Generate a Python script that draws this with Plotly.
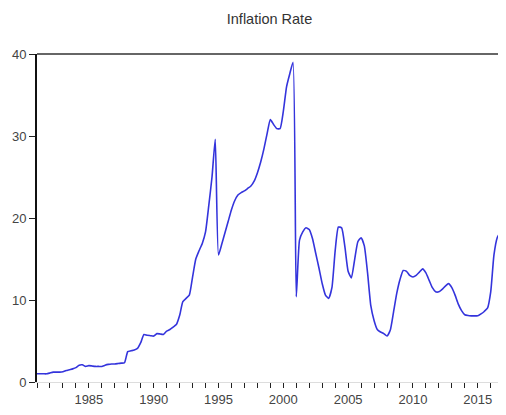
import plotly.graph_objects as go

years = list(range(1981, 2017))
quarters = [0.0, 0.25, 0.5, 0.75]

# Quarterly inflation rate (%), 1981Q1 - 2016Q4
inflation = [
    1.0, 1.0, 1.0, 1.0,      # 1981
    1.1, 1.2, 1.2, 1.2,      # 1982
    1.25, 1.4, 1.5, 1.6,     # 1983
    1.75, 2.05, 2.1, 1.9,    # 1984
    2.0, 1.95, 1.9, 1.9,     # 1985
    1.9, 2.05, 2.15, 2.2,    # 1986
    2.2, 2.25, 2.3, 2.35,    # 1987
    3.7, 3.8, 3.9, 4.1,      # 1988
    4.8, 5.8, 5.7, 5.65,     # 1989
    5.6, 5.9, 5.85, 5.8,     # 1990
    6.2, 6.4, 6.7, 7.0,      # 1991
    8.1, 9.8, 10.2, 10.6,    # 1992
    12.8, 15.0, 16.0, 16.9,  # 1993
    18.3, 21.5, 25.0, 29.6,  # 1994
    15.5, 16.8, 18.2, 19.6,  # 1995
    21.0, 22.1, 22.8, 23.1,  # 1996
    23.3, 23.6, 23.9, 24.5,  # 1997
    25.5, 26.8, 28.4, 30.3,  # 1998
    32.0, 31.4, 30.9, 30.9,  # 1999
    33.0, 36.0, 37.6, 39.0,  # 2000
    10.4, 17.3, 18.3, 18.8,  # 2001
    18.6, 17.5, 15.7, 13.9,  # 2002
    12.0, 10.6, 10.2, 11.5,  # 2003
    16.0, 18.9, 18.8, 16.5,  # 2004
    13.5, 12.7, 14.9, 17.1,  # 2005
    17.6, 16.6, 13.3, 9.3,   # 2006
    7.5, 6.4, 6.1, 5.9,      # 2007
    5.6, 6.3, 8.5, 10.8,     # 2008
    12.5, 13.6, 13.5, 13.0,  # 2009
    12.8, 13.0, 13.4, 13.8,  # 2010
    13.3, 12.4, 11.5, 11.0,  # 2011
    11.0, 11.3, 11.7, 12.0,  # 2012
    11.5, 10.6, 9.5, 8.7,    # 2013
    8.2, 8.1, 8.07, 8.07,    # 2014
    8.07, 8.3, 8.6, 9.0,     # 2015
    11.0, 15.5, 17.6, 18.3,  # 2016
]

period = [y + q for y in years for q in quarters]

x_ticks = [1985, 1990, 1995, 2000, 2005, 2010, 2015]
y_ticks = [0, 10, 20, 30, 40]

fig = go.Figure()
fig.add_trace(go.Scatter(
    x=period, y=inflation, mode="lines",
    line=dict(color="#3434dc", width=1.6, shape="spline", smoothing=0.5),
    showlegend=False, hoverinfo="skip",
))

# page body has an 8px margin, so the figure is sized to fit the 506x415 window
W, H = 498, 407
font = "Liberation Sans, Arial, sans-serif"
fig.update_layout(
    width=W, height=H,
    margin=dict(l=29, r=4, t=46, b=33),
    paper_bgcolor="white", plot_bgcolor="white",
    title=dict(text="Inflation Rate", x=0.5, xref="paper", xanchor="center",
               y=1 - 11 / H, yanchor="middle",
               font=dict(family=font, size=14.5, color="#333333")),
    font=dict(family=font, size=13, color="#444444"),
    xaxis=dict(
        range=[1981.0, 2016.87], tickmode="array", tickvals=x_ticks,
        ticktext=[str(v) for v in x_ticks],
        ticks="outside", ticklen=5, tickcolor="#222222", tickwidth=1,
        showline=True, linecolor="#dddddd", linewidth=1,
        showgrid=False, zeroline=False,
        minor=dict(tickmode="linear", tick0=1981, dtick=1, ticks="outside",
                   ticklen=5, tickcolor="#222222", showgrid=False),
        tickfont=dict(size=13, color="#444444"),
    ),
    yaxis=dict(
        range=[0, 40], tickmode="array", tickvals=y_ticks,
        ticks="outside", ticklen=6, tickcolor="#222222", tickwidth=1,
        showline=True, linecolor="#111111", linewidth=2,
        showgrid=False, zeroline=False,
        tickfont=dict(size=13, color="#444444"),
    ),
    shapes=[
        dict(type="line", xref="paper", yref="paper", x0=0, x1=1, y0=1, y1=1,
             line=dict(color="#333333", width=1.6)),
        dict(type="line", xref="paper", yref="paper", x0=1, x1=1, y0=0, y1=1,
             line=dict(color="#999999", width=1)),
    ],
)

fig.write_html("out.html")
